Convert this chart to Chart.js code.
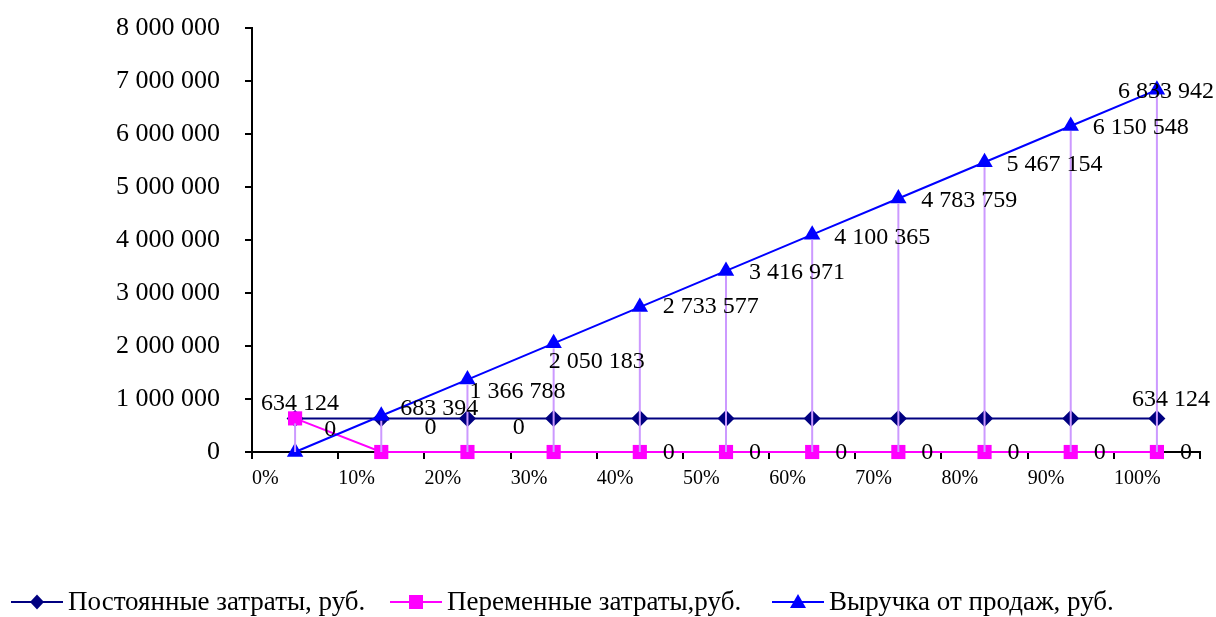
<!DOCTYPE html>
<html>
<head>
<meta charset="utf-8">
<script src="https://cdn.jsdelivr.net/npm/chart.js@4.4.1/dist/chart.umd.min.js"></script>
<style>
  html, body { margin: 0; padding: 0; background: #ffffff; }
  #wrap { width: 1216px; height: 617px; }
</style>
</head>
<body>
<div id="wrap"><canvas id="c" width="1216" height="617"></canvas></div>
<script>
// ---- data ----
const categories = ['0%', '10%', '20%', '30%', '40%', '50%', '60%', '70%', '80%', '90%', '100%'];
const fixedCosts = [634124, 634124, 634124, 634124, 634124, 634124, 634124, 634124, 634124, 634124, 634124];
const variableCosts = [634124, 0, 0, 0, 0, 0, 0, 0, 0, 0, 0];
const revenue = [0, 683394, 1366788, 2050183, 2733577, 3416971, 4100365, 4783759, 5467154, 6150548, 6833942];
const seriesNames = ['Постоянные затраты, руб.', 'Переменные затраты,руб.', 'Выручка от продаж, руб.'];
const yMin = 0, yMax = 8000000, yStep = 1000000;

// which data labels are shown, and their offset from the point (label centre)
const fixedLabelOffsets = [[5, -15], null, null, null, null, null, null, null, null, null, [14, -19]];
const variableLabelOffsets = [null, [-51, -22], [-37, -24], [-35, -24], [29, 1], [29, 1], [29, 1], [29, 1], [29, 1], [29, 1], [29, 1]];
const revenueLabelOffsets = [null, [58, -7], [50, 12], [43, 18], [71, 0], [71, 2], [70, 3], [71, 2], [70, 2], [70, 2], [9, 2]];

const SERIF = "'Liberation Serif', 'Times New Roman', serif";
const COLORS = ['#000080', '#FF00FF', '#0000FF'];
const HILO = '#CC99FF';

function fmt(v) {
  return String(Math.round(v)).replace(/\B(?=(\d{3})+(?!\d))/g, ' ');
}

const hiLoPlugin = {
  id: 'hiLo',
  afterDatasetsDraw(chart) {
    const ctx = chart.ctx;
    const y = chart.scales.y;
    const metas = chart.data.datasets.map((d, i) => chart.getDatasetMeta(i));
    ctx.save();
    ctx.strokeStyle = HILO;
    ctx.lineWidth = 2;
    for (let i = 0; i < categories.length; i++) {
      const vals = chart.data.datasets.map(d => d.data[i]);
      const hi = Math.max(...vals), lo = Math.min(...vals);
      if (hi === lo) continue;
      const x = metas[0].data[i].x;
      ctx.beginPath();
      ctx.moveTo(x, y.getPixelForValue(hi) + 5);
      ctx.lineTo(x, y.getPixelForValue(lo));
      ctx.stroke();
    }
    ctx.restore();
  }
};

const labelPlugin = {
  id: 'dataLabels',
  afterDraw(chart) {
    const ctx = chart.ctx;
    const offsetsBySeries = [fixedLabelOffsets, variableLabelOffsets, revenueLabelOffsets];
    ctx.save();
    ctx.font = '24px ' + SERIF;
    ctx.fillStyle = '#000000';
    ctx.textAlign = 'center';
    ctx.textBaseline = 'middle';
    chart.data.datasets.forEach((ds, di) => {
      const meta = chart.getDatasetMeta(di);
      const offs = offsetsBySeries[di];
      ds.data.forEach((v, i) => {
        const o = offs[i];
        if (!o) return;
        const p = meta.data[i];
        ctx.fillText(fmt(v), p.x + o[0], p.y + o[1]);
      });
    });
    ctx.restore();
  }
};

function drawMarker(ctx, kind, x, y, color) {
  ctx.fillStyle = color;
  ctx.beginPath();
  if (kind === 'diamond') {
    ctx.moveTo(x, y - 7.5); ctx.lineTo(x + 7, y); ctx.lineTo(x, y + 7.5); ctx.lineTo(x - 7, y);
  } else if (kind === 'square') {
    ctx.rect(x - 7, y - 7, 14, 14);
  } else {
    ctx.moveTo(x, y - 8); ctx.lineTo(x + 8, y + 6); ctx.lineTo(x - 8, y + 6);
  }
  ctx.closePath();
  ctx.fill();
}

const legendPlugin = {
  id: 'customLegend',
  afterDraw(chart) {
    const ctx = chart.ctx;
    const starts = [11, 390, 772];
    const kinds = ['diamond', 'square', 'triangle'];
    const yc = 602;
    ctx.save();
    ctx.font = '27px ' + SERIF;
    ctx.textBaseline = 'middle';
    ctx.textAlign = 'left';
    seriesNames.forEach((name, i) => {
      const x0 = starts[i];
      ctx.strokeStyle = COLORS[i];
      ctx.lineWidth = 2;
      ctx.beginPath();
      ctx.moveTo(x0, yc); ctx.lineTo(x0 + 52, yc);
      ctx.stroke();
      drawMarker(ctx, kinds[i], x0 + 26, yc, COLORS[i]);
      ctx.fillStyle = '#000000';
      ctx.fillText(name, x0 + 57, yc + 1);
    });
    ctx.restore();
  }
};

new Chart(document.getElementById('c'), {
  type: 'line',
  data: {
    labels: categories,
    datasets: [
      { label: seriesNames[0], data: fixedCosts, borderColor: COLORS[0], backgroundColor: COLORS[0],
        borderWidth: 2, pointStyle: 'rectRot', pointRadius: 8.5, pointBorderWidth: 0, clip: false, order: 3 },
      { label: seriesNames[1], data: variableCosts, borderColor: COLORS[1], backgroundColor: COLORS[1],
        borderWidth: 2, pointStyle: 'rect', pointRadius: 10, pointBorderWidth: 0, clip: false, order: 2 },
      { label: seriesNames[2], data: revenue, borderColor: COLORS[2], backgroundColor: COLORS[2],
        borderWidth: 2, pointStyle: 'triangle', pointRadius: 9.5, pointBorderWidth: 0, clip: false, order: 1 }
    ]
  },
  options: {
    responsive: false,
    animation: false,
    devicePixelRatio: 1,
    layout: { padding: { left: 0, top: 28, right: 16, bottom: 125 } },
    plugins: { legend: { display: false }, tooltip: { enabled: false } },
    elements: { line: { tension: 0 } },
    scales: {
      x: {
        type: 'category',
        offset: true,
        grid: { display: true, drawOnChartArea: false, drawTicks: true, offset: true, tickLength: 7, color: '#000000', lineWidth: 2 },
        border: { display: true, color: '#000000', width: 2 },
        ticks: { align: 'start', labelOffset: -43, padding: 8, color: '#000000', font: { family: SERIF, size: 20 }, maxRotation: 0, autoSkip: false },
        afterFit(scale) { scale.height = 40; scale.paddingLeft = 0; scale.paddingRight = 0; }
      },
      y: {
        min: yMin, max: yMax,
        grid: { display: true, drawOnChartArea: false, drawTicks: true, tickLength: 7, color: '#000000', lineWidth: 2 },
        border: { display: true, color: '#000000', width: 2 },
        ticks: { stepSize: yStep, padding: 25, color: '#000000', font: { family: SERIF, size: 26 }, callback: v => fmt(v) },
        afterFit(scale) { scale.width = 252; scale.paddingTop = 0; scale.paddingBottom = 0; }
      }
    }
  },
  plugins: [hiLoPlugin, labelPlugin, legendPlugin]
});
</script>
</body>
</html>
